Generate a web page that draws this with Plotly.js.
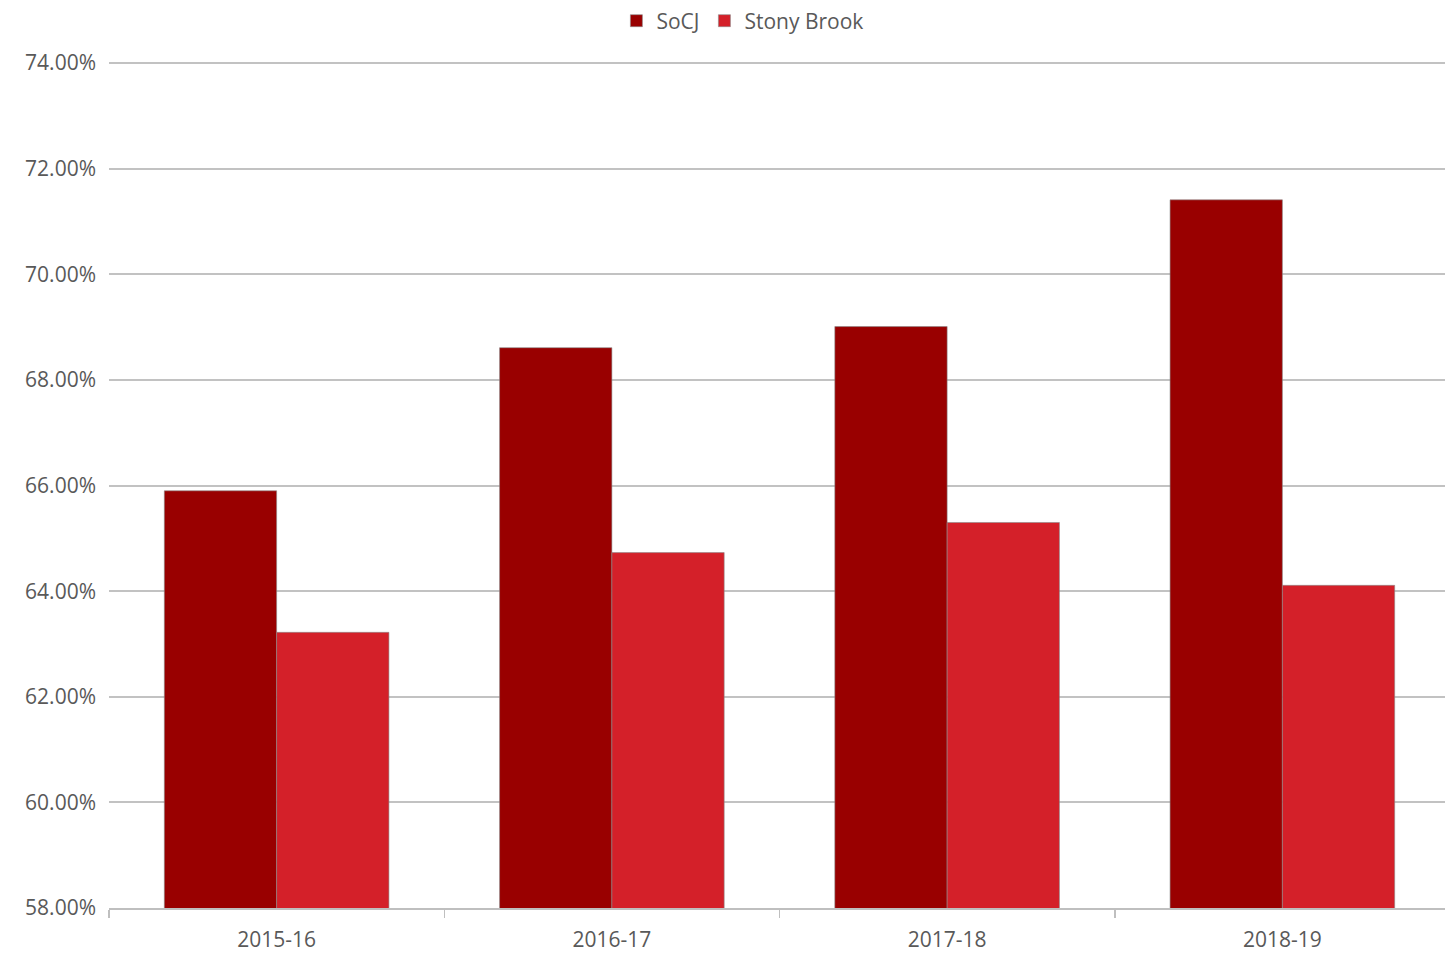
<!DOCTYPE html>
<html>
<head>
<meta charset="utf-8">
<script src="https://cdn.plot.ly/plotly-3.0.1.min.js"></script>
<style>html,body{margin:0;padding:0;background:#fff;overflow:hidden;}#chart{width:1450px;height:956px;}</style>
</head>
<body>
<div id="chart"></div>
<script>
const categories = ["2015-16", "2016-17", "2017-18", "2018-19"];
const socj = [0.6590, 0.6861, 0.6901, 0.7141];
const stonyBrook = [0.6322, 0.6473, 0.6530, 0.6411];
const yTicks = [0.58, 0.60, 0.62, 0.64, 0.66, 0.68, 0.70, 0.72, 0.74];

const traces = [
  {type: 'bar', name: 'SoCJ', x: categories, y: socj,
   marker: {color: '#990000', line: {color: '#8a8a8a', width: 0.6}}, hoverinfo: 'none'},
  {type: 'bar', name: 'Stony Brook', x: categories, y: stonyBrook,
   marker: {color: '#d42029', line: {color: '#8a8a8a', width: 0.6}}, hoverinfo: 'none'}
];

const layout = {
  width: 1450, height: 956,
  margin: {l: 109, r: 0, t: 62, b: 48},
  paper_bgcolor: '#fff', plot_bgcolor: '#fff',
  barmode: 'group', bargap: 0.33, bargroupgap: 0,
  font: {family: 'Open Sans, Liberation Sans, sans-serif', color: '#595959', size: 21},
  showlegend: true,
  legend: {orientation: 'h', xref: 'container', yref: 'container',
           x: 0.512, xanchor: 'center', y: 0.978, yanchor: 'middle',
           font: {size: 21, color: '#595959'}, itemwidth: 30, traceorder: 'normal',
           tracegroupgap: 0},
  xaxis: {
    type: 'category', showgrid: false, zeroline: false,
    showline: true, linecolor: '#bfbfbf', linewidth: 2,
    ticks: 'outside', tickson: 'boundaries', ticklen: 8, tickcolor: '#bfbfbf', tickwidth: 1.5,
    ticklabelstandoff: 12,
    tickfont: {size: 21, color: '#595959'}
  },
  yaxis: {
    range: [0.58, 0.7402], tickvals: yTicks, tickformat: '.2%',
    showgrid: true, gridcolor: '#c2c2c2', gridwidth: 2, zeroline: false,
    showline: false, ticks: '', ticklabelstandoff: 12,
    tickfont: {size: 21, color: '#595959'}
  }
};

Plotly.newPlot('chart', traces, layout, {displayModeBar: false, staticPlot: true});
</script>
</body>
</html>
